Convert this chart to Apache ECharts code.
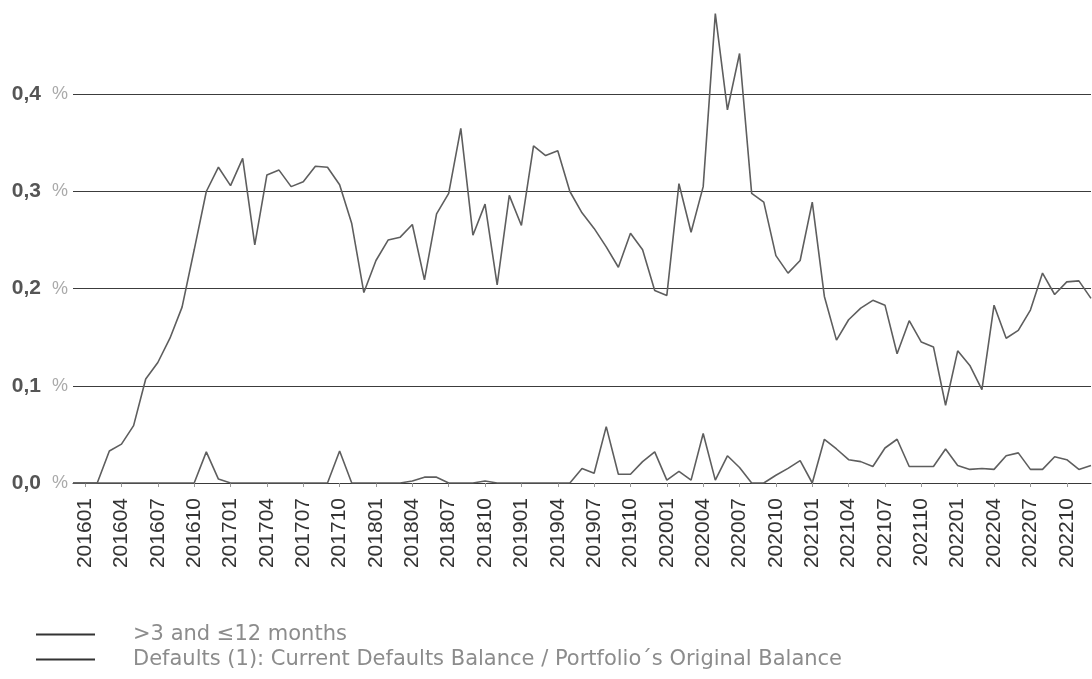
<!DOCTYPE html>
<html>
<head>
<meta charset="utf-8">
<script src="https://cdn.jsdelivr.net/npm/echarts@6/dist/echarts.min.js"></script>
<style>
html,body{margin:0;padding:0;background:#fff;}
#chart{width:1092px;height:679px;}
</style>
</head>
<body>
<div id="chart"></div>
<script>
const months = [
  '201512',
  '201601','201602','201603','201604','201605','201606','201607','201608','201609','201610','201611','201612',
  '201701','201702','201703','201704','201705','201706','201707','201708','201709','201710','201711','201712',
  '201801','201802','201803','201804','201805','201806','201807','201808','201809','201810','201811','201812',
  '201901','201902','201903','201904','201905','201906','201907','201908','201909','201910','201911','201912',
  '202001','202002','202003','202004','202005','202006','202007','202008','202009','202010','202011','202012',
  '202101','202102','202103','202104','202105','202106','202107','202108','202109','202110','202111','202112',
  '202201','202202','202203','202204','202205','202206','202207','202208','202209','202210','202211','202212'
];

const seriesNames = ['>3 and \u226412 months', 'Defaults (1): Current Defaults Balance / Portfolio\u00B4s Original Balance'];

const arrears3to12 = [
  0,
  0, 0, 0.033, 0.040, 0.059, 0.107, 0.124, 0.149, 0.181, 0.240, 0.300, 0.325,
  0.306, 0.334, 0.245, 0.317, 0.322, 0.305, 0.310, 0.326, 0.325, 0.307, 0.267, 0.196,
  0.229, 0.250, 0.253, 0.266, 0.209, 0.277, 0.298, 0.365, 0.255, 0.287, 0.204, 0.296,
  0.265, 0.347, 0.337, 0.342, 0.300, 0.278, 0.262, 0.243, 0.222, 0.257, 0.240, 0.198,
  0.193, 0.308, 0.258, 0.305, 0.483, 0.384, 0.442, 0.298, 0.289, 0.234, 0.216, 0.229,
  0.289, 0.192, 0.147, 0.168, 0.180, 0.188, 0.183, 0.133, 0.167, 0.145, 0.140, 0.080,
  0.136, 0.121, 0.096, 0.183, 0.149, 0.157, 0.178, 0.216, 0.194, 0.207, 0.208, 0.190
];

const defaults = [
  0,
  0, 0, 0, 0, 0, 0, 0, 0, 0, 0, 0.032, 0.004,
  0, 0, 0, 0, 0, 0, 0, 0, 0, 0.033, 0, 0,
  0, 0, 0, 0.002, 0.006, 0.006, 0, 0, 0, 0.002, 0, 0,
  0, 0, 0, 0, 0, 0.015, 0.010, 0.058, 0.009, 0.009, 0.022, 0.032,
  0.003, 0.012, 0.003, 0.051, 0.003, 0.028, 0.016, 0, 0, 0.008, 0.015, 0.023,
  0, 0.045, 0.035, 0.024, 0.022, 0.017, 0.036, 0.045, 0.017, 0.017, 0.017, 0.035,
  0.018, 0.014, 0.015, 0.014, 0.028, 0.031, 0.014, 0.014, 0.027, 0.024, 0.014, 0.018
];

const yTickLabels = ['0,0', '0,1', '0,2', '0,3', '0,4'];

const chart = echarts.init(document.getElementById('chart'), null, {renderer: 'canvas'});
const lineColor = '#5e5e5e';
chart.setOption({
  animation: false,
  backgroundColor: '#ffffff',
  grid: {left: 73, right: 1, top: 2, bottom: 196, containLabel: false},
  legend: {
    orient: 'vertical',
    left: 36,
    top: 624,
    padding: 0,
    icon: 'rect',
    itemWidth: 59,
    itemHeight: 2,
    itemGap: 4,
    data: seriesNames,
    textStyle: {
      fontFamily: 'DejaVu Sans',
      fontSize: 21,
      color: '#8c8c8c',
      lineHeight: 21,
      padding: [0, 0, 0, 33]
    }
  },
  xAxis: {
    type: 'category',
    data: months,
    boundaryGap: false,
    axisLine: {show: true, lineStyle: {color: '#3a3a3a', width: 1}},
    axisTick: {
      show: true,
      length: 4,
      interval: function (i) { return i % 3 === 1; },
      lineStyle: {color: '#999', width: 1}
    },
    axisLabel: {
      rotate: 90,
      margin: 15,
      interval: function (i) { return i % 3 === 1; },
      fontFamily: 'Liberation Sans',
      fontSize: 21,
      color: '#333'
    },
    splitLine: {show: false}
  },
  yAxis: {
    type: 'value',
    min: 0,
    max: 0.495,
    interval: 0.1,
    axisLine: {show: false},
    axisTick: {show: false},
    splitLine: {show: true, showMaxLine: false, lineStyle: {color: '#3c3c3c', width: 1}},
    axisLabel: {
      showMaxLabel: false,
      margin: 5,
      formatter: function (v) {
        const idx = Math.round(v * 10);
        if (Math.abs(v * 10 - idx) > 1e-6 || idx < 0 || idx >= yTickLabels.length) return '';
        return '{n|' + yTickLabels[idx] + '}{p|%}';
      },
      rich: {
        n: {fontFamily: 'Liberation Sans', fontSize: 21, color: '#555', fontWeight: 'bold'},
        p: {fontFamily: 'Liberation Sans', fontSize: 18, color: '#aaa', padding: [0, 0, 0, 11]}
      }
    }
  },
  series: [
    {
      name: seriesNames[0],
      type: 'line',
      data: arrears3to12,
      showSymbol: false,
      symbol: 'none',
      lineStyle: {color: lineColor, width: 1.6},
      itemStyle: {color: '#333'},
      z: 3
    },
    {
      name: seriesNames[1],
      type: 'line',
      data: defaults,
      showSymbol: false,
      symbol: 'none',
      lineStyle: {color: lineColor, width: 1.6},
      itemStyle: {color: '#333'},
      z: 3
    }
  ]
});
</script>
</body>
</html>
